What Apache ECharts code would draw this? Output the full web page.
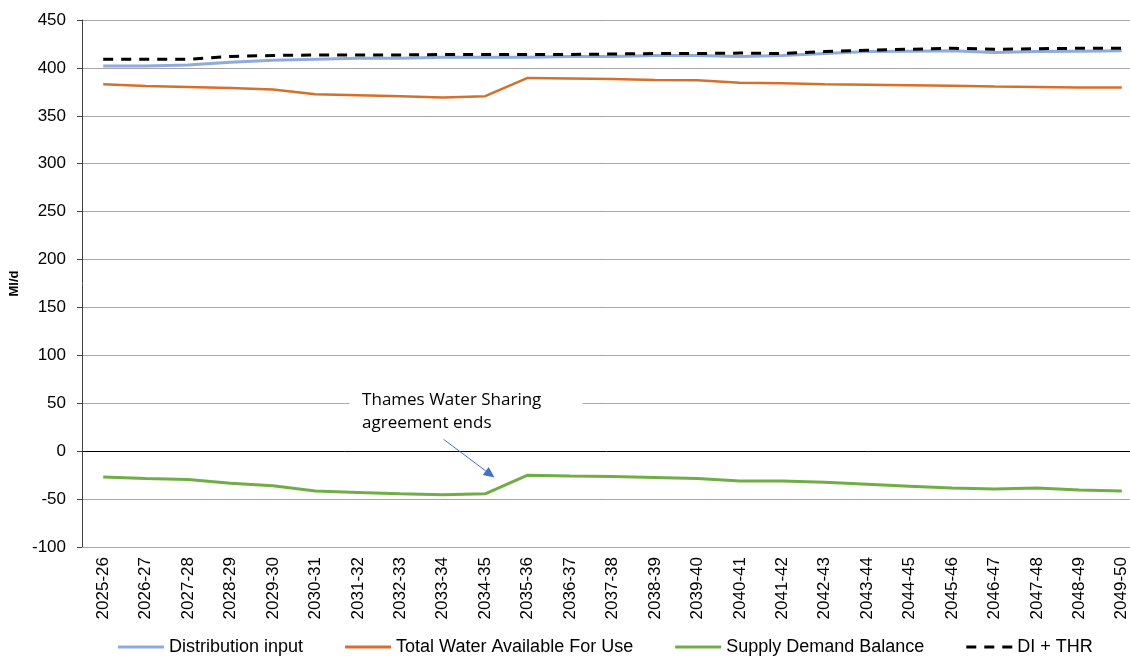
<!DOCTYPE html>
<html>
<head>
<meta charset="utf-8">
<script src="https://cdn.jsdelivr.net/npm/echarts@6/dist/echarts.min.js"></script>
<style>
  html, body { margin: 0; padding: 0; background: #ffffff; }
  #chart { width: 1130px; height: 656px; }
</style>
</head>
<body>
<div id="chart"></div>
<script>
// Financial years shown along the horizontal axis
const years = [
  '2025-26', '2026-27', '2027-28', '2028-29', '2029-30', '2030-31', '2031-32',
  '2032-33', '2033-34', '2034-35', '2035-36', '2036-37', '2037-38', '2038-39',
  '2039-40', '2040-41', '2041-42', '2042-43', '2043-44', '2044-45', '2045-46',
  '2046-47', '2047-48', '2048-49', '2049-50'
];

// Ml/d values per year
const distributionInput = [
  402, 402, 403, 406, 408, 409, 410, 410, 411, 411, 411, 412, 412,
  413, 413, 412, 413, 415, 417, 417.5, 418, 416, 417, 417.5, 418
];
const totalWaterAvailable = [
  383, 381, 380, 379, 377.5, 372.5, 371.5, 370.5, 369, 370.5, 389.5, 389, 388.5,
  387.5, 387, 384.5, 384, 383, 382.5, 382, 381.5, 380.5, 380, 379.5, 379.5
];
const supplyDemandBalance = [
  -27, -28.5, -29.5, -33.5, -36, -41.5, -43, -44.5, -45.5, -44.5, -25, -26, -26.5,
  -27.5, -28.5, -31, -31, -32.5, -34.5, -36.5, -38.5, -39.5, -38.5, -40.5, -41.5
];
const diPlusThr = [
  409, 409, 409, 412, 413, 413.5, 413.5, 413.5, 414, 414, 414, 414, 414.5,
  415, 415, 415.5, 415, 417, 418.5, 419.5, 420.5, 419.5, 420, 420.5, 420.5
];

// Value axis range
const yMin = -100;
const yMax = 450;
const yStep = 50;

// Note pointing at the end of the sharing agreement
const noteLines = ['Thames Water Sharing', 'agreement ends'];

const AXIS_FONT = '"Liberation Sans", Arial, sans-serif';
const NOTE_FONT = '"Open Sans", "Noto Sans", sans-serif';

// Gridline colours: the zero line is drawn darker than the rest
const gridColors = [];
for (let v = yMin; v <= yMax; v += yStep) {
  gridColors.push(v === 0 ? '#000000' : '#a6a6a6');
}

// Legend keys: a plain stroke, or three dashes for the dashed series
const KEY_SOLID = 'path://M0 0h0.01v0.01h-0.01z M0 5.5h46v3h-46z M45.99 13.99h0.01v0.01h-0.01z';
const KEY_DASHED = 'path://M0 0h0.01v0.01h-0.01z M0 5.5h10v3h-10z M18 5.5h10v3h-10z M36 5.5h10v3h-10z M45.99 13.99h0.01v0.01h-0.01z';

const chart = echarts.init(document.getElementById('chart'), null, { renderer: 'canvas' });

const lineSeries = (name, data, color, width, type) => ({
  name: name,
  type: 'line',
  data: data,
  symbol: 'none',
  showSymbol: false,
  smooth: false,
  animation: false,
  lineStyle: { color: color, width: width, type: type || 'solid' },
  itemStyle: { color: color }
});

chart.setOption({
  animation: false,
  backgroundColor: '#ffffff',
  grid: {
    left: 82, top: 20, bottom: 109, width: 1061,
    containLabel: false,
    outerBoundsMode: 'none'
  },
  legend: {
    top: 638,
    left: 118,
    padding: 0,
    itemWidth: 46,
    itemHeight: 14,
    itemGap: 42,
    textStyle: { fontFamily: AXIS_FONT, fontSize: 18, color: '#000000', padding: [0, 0, 0, 0] },
    data: [
      { name: 'Distribution input', icon: KEY_SOLID },
      { name: 'Total Water Available For Use', icon: KEY_SOLID },
      { name: 'Supply Demand Balance', icon: KEY_SOLID },
      { name: 'DI + THR', icon: KEY_DASHED }
    ]
  },
  xAxis: {
    type: 'category',
    data: years,
    boundaryGap: true,
    axisLine: { show: true, onZero: false, lineStyle: { color: '#a6a6a6', width: 1 } },
    axisTick: { show: false },
    axisLabel: {
      rotate: 90,
      interval: 0,
      margin: 10,
      fontFamily: AXIS_FONT,
      fontSize: 17,
      color: '#000000'
    },
    splitLine: { show: false }
  },
  yAxis: {
    type: 'value',
    min: yMin,
    max: yMax,
    interval: yStep,
    name: 'Ml/d',
    nameLocation: 'middle',
    nameGap: 59,
    nameRotate: 90,
    nameTextStyle: { fontFamily: AXIS_FONT, fontSize: 13, fontWeight: 'bold', color: '#000000' },
    axisLine: { show: true, lineStyle: { color: '#404040', width: 1 } },
    axisTick: { show: true, inside: false, length: 5, lineStyle: { color: '#404040' } },
    axisLabel: {
      margin: 16,
      fontFamily: AXIS_FONT,
      fontSize: 17,
      color: '#000000'
    },
    splitLine: { show: true, lineStyle: { color: gridColors, width: 1 } }
  },
  series: [
    lineSeries('Distribution input', distributionInput, '#8faadc', 3),
    lineSeries('Total Water Available For Use', totalWaterAvailable, '#d5702c', 2.5),
    lineSeries('Supply Demand Balance', supplyDemandBalance, '#70ad47', 3),
    lineSeries('DI + THR', diPlusThr, '#000000', 3, [10, 8])
  ]
});

// Pixel position of a (fractional category index, value) pair
function toPixel(idx, val) {
  const i0 = Math.floor(idx);
  const i1 = Math.min(i0 + 1, years.length - 1);
  const p0 = chart.convertToPixel({ gridIndex: 0 }, [i0, val]);
  const p1 = chart.convertToPixel({ gridIndex: 0 }, [i1, val]);
  const t = idx - i0;
  return [p0[0] + (p1[0] - p0[0]) * t, p0[1]];
}

// Annotation: text box plus an arrow to the jump in 2035-36
const arrowFrom = toPixel(8.02, 12.4);
const arrowTip = toPixel(9.22, -27.5);
const labelAnchor = toPixel(6.1, 65);   // top-left of the note text
const boxLeft = toPixel(5.8, 0)[0];
const boxRight = toPixel(11.3, 0)[0];

const dx = arrowTip[0] - arrowFrom[0];
const dy = arrowTip[1] - arrowFrom[1];
const len = Math.sqrt(dx * dx + dy * dy);
const ux = dx / len, uy = dy / len;
const nx = -uy, ny = ux;
const headLen = 11, headHalf = 5;
const base = [arrowTip[0] - ux * headLen, arrowTip[1] - uy * headLen];

chart.setOption({
  graphic: [
    {
      type: 'rect',
      shape: { x: boxLeft, y: labelAnchor[1] - 4, width: boxRight - boxLeft, height: 54 },
      style: { fill: '#ffffff' },
      z: 10
    },
    {
      type: 'text',
      x: labelAnchor[0],
      y: labelAnchor[1],
      style: {
        text: noteLines.join('\n'),
        font: '17px ' + NOTE_FONT,
        fill: '#000000',
        lineHeight: 23,
        textAlign: 'left',
        textVerticalAlign: 'top'
      },
      z: 11
    },
    {
      type: 'line',
      shape: { x1: arrowFrom[0], y1: arrowFrom[1], x2: base[0], y2: base[1] },
      style: { stroke: '#4472c4', lineWidth: 1 },
      z: 11
    },
    {
      type: 'polygon',
      shape: {
        points: [
          arrowTip,
          [base[0] + nx * headHalf, base[1] + ny * headHalf],
          [base[0] - nx * headHalf, base[1] - ny * headHalf]
        ]
      },
      style: { fill: '#4472c4' },
      z: 11
    }
  ]
});
</script>
</body>
</html>
